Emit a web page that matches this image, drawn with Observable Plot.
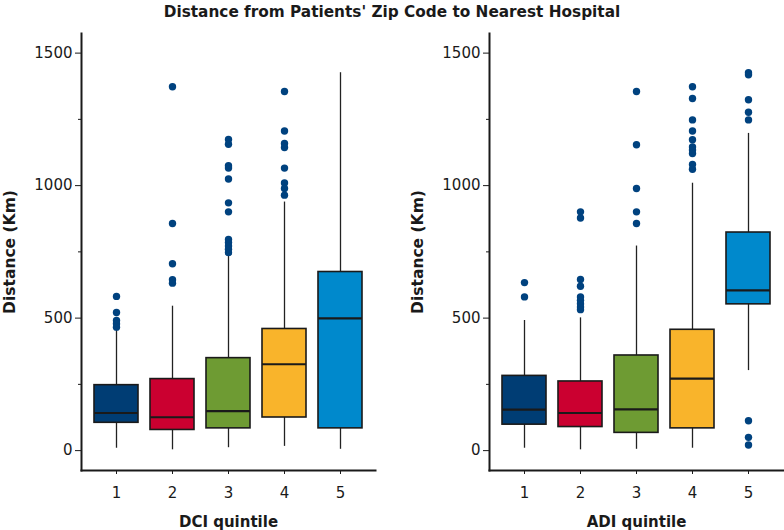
<!DOCTYPE html>
<html>
<head>
<meta charset="utf-8">
<script src="https://cdn.jsdelivr.net/npm/d3@7"></script>
<script src="https://cdn.jsdelivr.net/npm/@observablehq/plot@0.6"></script>
<style>
  body { margin: 0; background: white; width: 784px; height: 530px; overflow: hidden; }
  #title { height: 24px; line-height: 24px; text-align: center; font-family: "DejaVu Sans", sans-serif; font-weight: bold; font-size: 15.3px; color: #1a1a1a; }
  #row { display: flex; flex-direction: row; }
</style>
</head>
<body>
<div id="title">Distance from Patients' Zip Code to Nearest Hospital</div>
<div id="row"></div>
<script>
const quintiles = ["1", "2", "3", "4", "5"];
const boxColors = ["#003d74", "#cb0030", "#6e9b33", "#f9b42b", "#0089cc"];
const outlierColor = "#00427f";
const yTicks = [0, 500, 1000, 1500];
const yMinorTicks = [250, 750, 1250];

// DCI quintile panel
const dciLo  = [9, 3, 11, 16, 5];
const dciQ1  = [105, 78, 84, 125, 84];
const dciMed = [142, 126, 149, 326, 499];
const dciQ3  = [247, 270, 349, 459, 674];
const dciHi  = [455, 545, 735, 938, 1426];
const dciOutliers = [
  [582, 521, 491, 479, 466],
  [1373, 857, 705, 645, 632],
  [1174, 1156, 1075, 1066, 1025, 935, 901, 797, 785, 772, 760, 747],
  [1355, 1206, 1159, 1144, 1066, 1010, 989, 964],
  []
];

// ADI quintile panel
const adiLo  = [9, 3, 5, 9, 302];
const adiQ1  = [98, 89, 67, 84, 552];
const adiMed = [155, 142, 156, 272, 605];
const adiQ3  = [282, 261, 359, 456, 823];
const adiHi  = [491, 501, 772, 1009, 1197];
const adiOutliers = [
  [634, 580],
  [901, 878, 646, 620, 580, 567, 554, 542, 532],
  [1355, 1154, 989, 901, 857],
  [1373, 1329, 1248, 1206, 1173, 1146, 1134, 1121, 1080, 1062],
  [1426, 1418, 1324, 1277, 1248, 113, 50, 21]
];

function panel(lo, q1, med, q3, hi, outliers, xLabel, ml, mr) {
  const stats = quintiles.map((q, i) => ({q, lo: lo[i], q1: q1[i], med: med[i], q3: q3[i], hi: hi[i]}));
  const out = quintiles.flatMap((q, i) => outliers[i].map(v => ({q, v})));
  const svg = Plot.plot({
    width: 392,
    height: 506,
    marginTop: 9,
    marginBottom: 60,
    marginLeft: ml,
    marginRight: mr,
    style: {fontFamily: "DejaVu Sans, sans-serif", fontSize: "15px", color: "#1a1a1a", background: "white", overflow: "visible"},
    x: {domain: quintiles, padding: 0.22},
    y: {domain: [-75, 1574]},
    color: {domain: quintiles, range: boxColors},
    marks: [
      Plot.ruleX(stats, {x: "q", y1: "lo", y2: "q1", stroke: "#222", strokeWidth: 1.3}),
      Plot.ruleX(stats, {x: "q", y1: "q3", y2: "hi", stroke: "#222", strokeWidth: 1.3}),
      Plot.barY(stats, {x: "q", y1: "q1", y2: "q3", fill: "q", stroke: "#1a1a1a", strokeWidth: 1.6}),
      Plot.tickY(stats, {x: "q", y: "med", stroke: "#1a1a1a", strokeWidth: 2.2}),
      Plot.dot(out, {x: "q", y: "v", r: 3.7, fill: outlierColor}),
      Plot.axisY({ticks: yTicks, tickSize: 6, tickPadding: 3, tickFormat: d => String(d), label: "Distance (Km)", labelAnchor: "center", labelOffset: 78, labelArrow: "none"}),
      Plot.axisY({ticks: yMinorTicks, tickSize: 3, tickFormat: () => "", label: null}),
      Plot.axisX({tickSize: 4, tickPadding: 13, label: xLabel, labelAnchor: "center", labelOffset: 56}),
      Plot.frame({anchor: "left", strokeWidth: 2, stroke: "#1a1a1a"}),
      Plot.frame({anchor: "bottom", strokeWidth: 2, stroke: "#1a1a1a"})
    ]
  });
  const labels = d3.select(svg).selectAll('[aria-label$="axis label"]');
  labels.attr("font-weight", "bold");
  d3.select(svg).selectAll('[aria-label="y-axis label"]').attr("font-size", "15.5px");
  return svg;
}

const row = document.getElementById("row");
row.appendChild(panel(dciLo, dciQ1, dciMed, dciQ3, dciHi, dciOutliers, "DCI quintile", 81, 17));
row.appendChild(panel(adiLo, adiQ1, adiMed, adiQ3, adiHi, adiOutliers, "ADI quintile", 97, 1));
</script>
</body>
</html>
